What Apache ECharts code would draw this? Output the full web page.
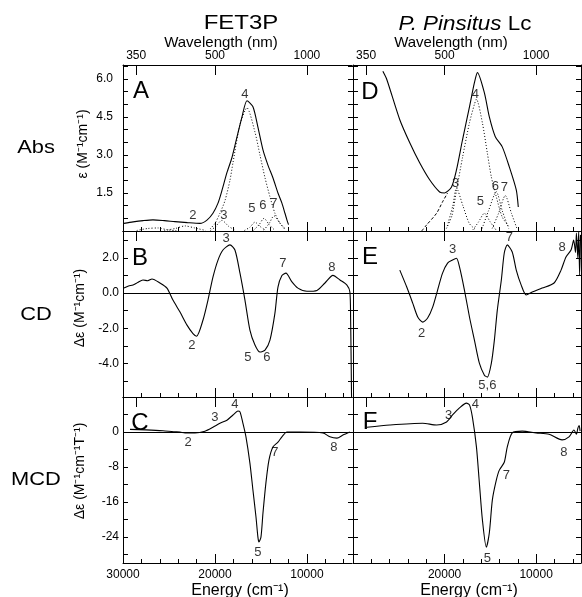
<!DOCTYPE html>
<html>
<head>
<meta charset="utf-8">
<script src="https://cdn.jsdelivr.net/npm/echarts@6/dist/echarts.min.js"></script>
<style>
  html, body { margin: 0; background: #fff; }
  #chart { width: 582px; height: 597px; }
</style>
</head>
<body>
<div id="chart"></div>
<script>
// energy axis runs from 30000 down to ~5100 cm-1 in every panel
var E_MIN = 5100, E_MAX = 30000;
var FONT = '"Liberation Sans", Arial, sans-serif';

var energyMajor = [30000, 20000, 10000];
var energyMinor = [28000, 26000, 24000, 22000, 18000, 16000, 14000, 12000, 8000, 6000];
var wavelengthNm = [350, 500, 1000];

var absTicks = [0.5, 1, 1.5, 2, 2.5, 3, 3.5, 4, 4.5, 5, 5.5, 6, 6.5];
var absLabels = [1.5, 3, 4.5, 6];
var cdTicks = [-5, -4, -3, -2, -1, 0, 1, 2, 3];
var cdLabels = [-4, -2, 0, 2];
var mcdTicks = [-28, -24, -20, -16, -12, -8, -4, 0, 4];
var mcdLabels = [-24, -16, -8, 0];

// ---- Abs, FET3P (panel A)
var absFet3p = [[29890,0.3],[28900,0.36],[27800,0.41],[26740,0.44],[25500,0.41],[24350,0.37],[23000,0.33],[21630,0.3],
  [20870,0.43],[20220,0.7],[19670,1.1],[19240,1.6],[18700,2.3],[18150,2.9],[17610,3.7],[17060,4.5],[16520,5.14],
  [15870,4.9],[15330,4.1],[14780,3.2],[14240,2.6],[13700,2.1],[13150,1.5],[12720,1.1],[12390,0.7],[12170,0.43],[12000,0.25]];
var absFet3pBand1 = [[28500,0.02],[27300,0.1],[26200,0.12],[25200,0.05],[24200,0.01]];
var absFet3pBand2 = [[25500,0.02],[24300,0.1],[23260,0.2],[22200,0.12],[21000,0.02]];
var absFet3pBand3 = [[20500,0.02],[20000,0.15],[19240,0.42],[18500,0.18],[17800,0.03]];
var absFet3pBand4 = [[20540,0.08],[20000,0.3],[19460,0.7],[18910,1.2],[18370,2.0],[18040,2.7],[17280,4.2],[16520,4.86],
  [15650,3.9],[15110,3.0],[14560,2.1],[14020,1.35],[13480,0.7],[12930,0.3],[12390,0.1]];
var absFet3pBand5 = [[16800,0.02],[16200,0.15],[15650,0.35],[15100,0.18],[14500,0.02]];
var absFet3pBand6 = [[15800,0.03],[15200,0.25],[14670,0.5],[14100,0.25],[13500,0.03]];
var absFet3pBand7 = [[14700,0.03],[14100,0.3],[13590,0.6],[13000,0.35],[12400,0.05]];
var absFet3pLabels = [[22390,0.63,'2'],[19020,0.63,'3'],[16740,5.38,'4'],[15980,0.91,'5'],[14780,0.99,'6'],[13590,1.07,'7']];

// ---- Abs, P. pinsitus Lc (panel D)
var absLc = [[26740,6.3],[26300,5.97],[24890,4.39],[23800,3.48],[22720,2.69],[21630,2.02],[20540,1.54],[20000,1.5],
  [19240,1.74],[18700,2.41],[18040,3.6],[17280,4.9],[16740,5.85],[16410,6.25],[15650,5.45],[15110,4.5],[14460,3.72],
  [13700,3.32],[12930,2.53],[12170,1.62],[11950,0.95]];
var absLcBackground = [[22500,0],[21960,0.24],[20870,0.7],[20220,1.15],[19670,1.5]];
var absLcBand3 = [[19700,0.2],[19100,1.0],[18700,1.7],[18000,1.0],[17300,0.3],[16600,0.05]];
var absLcBand4 = [[19800,0.1],[19200,0.6],[18700,1.6],[18040,2.9],[17280,4.27],[16740,5.0],[16520,5.2],[15870,4.27],
  [15330,3.08],[14890,2.13],[14350,1.35],[13700,0.55],[12930,0.15]];
var absLcBand5 = [[16900,0.05],[16300,0.35],[15650,0.7],[15000,0.35],[14400,0.05]];
var absLcBand6 = [[15900,0.1],[15200,0.8],[14350,1.55],[13700,0.8],[13000,0.1]];
var absLcBand7 = [[14800,0.1],[14100,0.7],[13370,1.4],[12700,0.7],[12100,0.1]];
var absLcLabels = [[18800,1.86,'3'],[16630,5.38,'4'],[16090,1.15,'5'],[14460,1.74,'6'],[13480,1.7,'7']];

// ---- CD (panels B, E)
var cdFet3p = [[29890,0.28],[29400,0.4],[28910,0.45],[28400,0.6],[27830,0.74],[27300,0.7],[26850,0.8],[25980,0.57],
  [25220,0.28],[24570,-0.4],[23800,-1.08],[23040,-1.82],[22390,-2.3],[22000,-2.45],[21300,-1.53],[20760,-0.4],
  [20220,0.9],[19670,1.87],[19130,2.44],[18370,2.73],[17830,2.44],[17280,1.13],[16740,-0.4],[16200,-2.1],
  [15650,-2.95],[15110,-3.35],[14560,-3.24],[14020,-2.67],[13480,-1.14],[13150,0.34],[12720,1.0],[12280,1.13],
  [11630,0.63],[10980,0.28],[10000,0.1],[8910,0.15],[8040,0.57],[7170,1.0],[6410,0.74],[5650,0.45],[5330,0.06],
  [5250,-1.5],[5200,-3.5],[5150,-5.9]];
var cdFet3pLabels = [[22500,-3.0,'2'],[18800,3.1,'3'],[16410,-3.64,'5'],[14350,-3.64,'6'],[12610,1.7,'7'],[7280,1.48,'8']];

var cdLc = [[24890,1.3],[24130,0.34],[23480,-0.57],[22930,-1.36],[22390,-1.65],[21850,-1.42],[21300,-0.8],[20760,0.17],
  [20220,1.13],[19670,1.7],[19130,1.87],[18700,1.97],[18370,1.48],[17830,0.17],[17280,-1.36],[16740,-2.67],
  [16200,-3.98],[15650,-4.66],[15330,-4.77],[14890,-3.98],[14560,-2.67],[14240,-0.97],[13800,0.74],[13480,2.27],
  [13150,2.73],[12610,2.33],[12170,1.3],[11630,0.45],[11090,-0.11],[10430,0.06],[9350,0.28],[8040,0.57],[7280,1.3],
  [6740,2.05],[6190,2.44],[5900,3.0],[5700,2.3],[5600,3.4],[5450,2.0],[5350,3.5],[5250,1.0],[5150,3.3]];
var cdLcLabels = [[22500,-2.27,'2'],[19130,2.5,'3'],[15330,-5.23,'5,6'],[12930,3.18,'7'],[7170,2.6,'8']];

// ---- MCD (panels C, F)
var mcdFet3p = [[29240,0.6],[27500,0.5],[25650,0.3],[24500,0.05],[23800,0],[23260,-0.2],[22170,-0.2],[21090,0.2],
  [20220,1.1],[19460,2.0],[18700,2.7],[18040,3.9],[17500,4.8],[17280,4.6],[16960,2.0],[16630,-1.1],[16200,-7.1],
  [15870,-13.3],[15540,-19.4],[15330,-24],[15220,-25.1],[15000,-24],[14780,-18.5],[14460,-11.6],[14130,-6.4],
  [13700,-3.4],[13150,-2.3],[12720,-1.1],[12170,0],[10760,0],[8260,-0.2],[7500,-1.1],[6740,-1.4],[6090,-0.7],[5330,0]];
var mcdFet3pLabels = [[22930,-2.3,'2'],[20000,3.4,'3'],[17830,6.2,'4'],[15330,-27.4,'5'],[13480,-4.6,'7'],[7060,-3.4,'8']];

var mcdLc = [[28480,1.1],[25980,1.6],[22390,2.0],[20870,1.6],[19780,2.3],[19130,3.9],[18370,5.5],[17610,6.6],
  [17280,6.2],[16960,3.4],[16520,-3.4],[16200,-11.6],[15870,-20],[15440,-26.3],[15110,-23],[14780,-15.5],
  [14350,-11],[14020,-8.7],[13480,-6.9],[13150,-3.4],[12610,-0.2],[11520,0.2],[10000,-0.2],[8590,-0.5],[7170,-1.8],
  [6410,-1.1],[5870,0.45],[5600,-0.5],[5440,0.9],[5300,1.5],[5200,0.2]];
var mcdLcLabels = [[19570,3.9,'3'],[16630,6.4,'4'],[15330,-28.8,'5'],[13260,-9.8,'7'],[6960,-4.6,'8']];

var wavelengthEnergy = wavelengthNm.map(function (nm) { return 1e7 / nm; });

var panels = [
  { left: 123, top: 65,  width: 229, yMin: 0,     yMax: 6.55, ticks: absTicks, labels: absLabels, digits: 1, margin: 10, side: 'left',  waveLabels: true,  energyLabels: [], zero: false,
    solid: absFet3p, dotted: [absFet3pBand1, absFet3pBand2, absFet3pBand3, absFet3pBand4, absFet3pBand5, absFet3pBand6, absFet3pBand7], dashed: [], marks: absFet3pLabels },
  { left: 123, top: 231, width: 229, yMin: -5.9,  yMax: 3.52, ticks: cdTicks,  labels: cdLabels,  digits: 1, margin: 4,  side: 'left',  waveLabels: false, energyLabels: [], zero: true,
    solid: cdFet3p, dotted: [], dashed: [], marks: cdFet3pLabels },
  { left: 123, top: 397, width: 229, yMin: -29.9, yMax: 8,    ticks: mcdTicks, labels: mcdLabels, digits: 0, margin: 4,  side: 'left',  waveLabels: false, energyLabels: [30000, 20000, 10000], zero: true,
    solid: mcdFet3p, dotted: [], dashed: [], marks: mcdFet3pLabels },
  { left: 353, top: 65,  width: 228, yMin: 0,     yMax: 6.55, ticks: absTicks, labels: [],        digits: 1, margin: 4,  side: 'right', waveLabels: true,  energyLabels: [], zero: false,
    solid: absLc, dotted: [absLcBand3, absLcBand4, absLcBand5, absLcBand6, absLcBand7], dashed: [absLcBackground], marks: absLcLabels },
  { left: 353, top: 231, width: 228, yMin: -5.9,  yMax: 3.52, ticks: cdTicks,  labels: [],        digits: 1, margin: 4,  side: 'right', waveLabels: false, energyLabels: [], zero: true,
    solid: cdLc, dotted: [], dashed: [], marks: cdLcLabels },
  { left: 353, top: 397, width: 228, yMin: -29.9, yMax: 8,    ticks: mcdTicks, labels: [],        digits: 0, margin: 4,  side: 'right', waveLabels: false, energyLabels: [20000, 10000], zero: true,
    solid: mcdLc, dotted: [], dashed: [], marks: mcdLcLabels }
];

var black = { color: '#000', width: 1 };
var grids = [], xAxes = [], yAxes = [], series = [];

// main grids, then overlay grids that only carry the longer/outward ticks
panels.forEach(function (p) {
  grids.push({ left: p.left, top: p.top, width: p.width, height: 166, containLabel: false, outerBoundsMode: 'none' });
});
panels.forEach(function (p) {
  grids.push({ left: p.left, top: p.top, width: p.width, height: 166, containLabel: false, outerBoundsMode: 'none' });
});

panels.forEach(function (p, i) {
  p.xIndex = xAxes.length;
  xAxes.push({
    type: 'value', gridIndex: i, position: 'bottom', min: E_MIN, max: E_MAX, inverse: true,
    axisLine: { show: true, onZero: false, lineStyle: black },
    axisTick: { show: true, inside: true, length: 4, customValues: energyMinor, lineStyle: black },
    axisLabel: { show: p.energyLabels.length > 0, customValues: p.energyLabels, color: '#000', fontFamily: FONT, fontSize: 12, margin: 6,
      formatter: function (v) { return String(Math.round(v)); } },
    splitLine: { show: false }
  });
  xAxes.push({
    type: 'value', gridIndex: i, position: 'top', min: E_MIN, max: E_MAX, inverse: true,
    axisLine: { show: true, onZero: false, lineStyle: black },
    axisTick: { show: true, inside: true, length: 10, customValues: wavelengthEnergy, lineStyle: black },
    axisLabel: { show: p.waveLabels, customValues: wavelengthEnergy, color: '#000', fontFamily: FONT, fontSize: 12, margin: 3,
      formatter: function (v) { return String(Math.round(1e7 / v)); } },
    splitLine: { show: false }
  });

  p.yIndex = yAxes.length;
  yAxes.push({
    type: 'value', gridIndex: i, position: 'left', min: p.yMin, max: p.yMax,
    axisLine: { show: true, onZero: false, lineStyle: black },
    axisTick: { show: true, inside: true, length: 5, customValues: p.ticks, lineStyle: black },
    axisLabel: { show: p.labels.length > 0, customValues: p.labels, color: '#000', fontFamily: FONT, fontSize: 12, margin: p.margin,
      formatter: function (v) { return v.toFixed(p.digits); } },
    splitLine: { show: false }
  });
  if (p.side === 'right') {
    yAxes.push({
      type: 'value', gridIndex: i, position: 'right', min: p.yMin, max: p.yMax,
      axisLine: { show: true, onZero: false, lineStyle: black },
      axisTick: { show: true, inside: true, length: 5, customValues: p.ticks, lineStyle: black },
      axisLabel: { show: false }, splitLine: { show: false }
    });
  }
});

panels.forEach(function (p, i) {
  xAxes.push({
    type: 'value', gridIndex: 6 + i, position: 'bottom', min: E_MIN, max: E_MAX, inverse: true,
    axisLine: { show: false, onZero: false },
    axisTick: { show: true, inside: true, length: 9, customValues: energyMajor, lineStyle: black },
    axisLabel: { show: false }, splitLine: { show: false }
  });
  yAxes.push({
    type: 'value', gridIndex: 6 + i, position: 'left', min: p.yMin, max: p.yMax,
    axisLine: { show: false, onZero: false },
    axisTick: { show: p.side === 'right', inside: false, length: 5, customValues: p.ticks, lineStyle: black },
    axisLabel: { show: false }, splitLine: { show: false }
  });
});

function curve(p, data, dash, width) {
  return {
    type: 'line', xAxisIndex: p.xIndex, yAxisIndex: p.yIndex, data: data,
    showSymbol: false, smooth: 0.25, silent: true, animation: false,
    lineStyle: { color: '#000', width: width, type: dash }
  };
}

panels.forEach(function (p) {
  var main = curve(p, p.solid, 'solid', 1.1);
  main.z = 4;
  if (p.zero) {
    main.markLine = {
      silent: true, symbol: 'none', animation: false,
      label: { show: false },
      lineStyle: { color: '#000', width: 1, type: 'solid' },
      data: [{ yAxis: 0 }]
    };
  }
  series.push(main);
  p.dotted.forEach(function (d) { series.push(curve(p, d, [1, 2], 1)); });
  p.dashed.forEach(function (d) { series.push(curve(p, d, [3, 2], 1)); });
  series.push({
    type: 'scatter', xAxisIndex: p.xIndex, yAxisIndex: p.yIndex, silent: true, animation: false, z: 5,
    symbolSize: 1, itemStyle: { color: 'rgba(0,0,0,0)' },
    data: p.marks.map(function (m) { return { value: [m[0], m[1]], name: m[2] }; }),
    label: { show: true, position: 'inside', formatter: '{b}', color: '#000', fontFamily: FONT, fontSize: 13 }
  });
});

function txt(s, x, y, size, extra) {
  var el = {
    type: 'text', x: x, y: y, silent: true,
    style: { text: s, fontSize: size, fontFamily: FONT, fill: '#000', align: 'center', verticalAlign: 'middle' }
  };
  for (var k in extra) el[k] = extra[k];
  return el;
}

var graphics = [
  txt('FET3P', 241, 23, 20, { scaleX: 1.2 }),
  {
    type: 'text', x: 465, y: 24, silent: true, scaleX: 1.12,
    style: { text: '{i|P. Pinsitus} Lc', fontSize: 20, fontFamily: FONT, fill: '#000', align: 'center', verticalAlign: 'middle',
      rich: { i: { fontStyle: 'italic', fontSize: 20, fontFamily: FONT } } }
  },
  txt('Wavelength (nm)', 221, 43, 15),
  txt('Wavelength (nm)', 451, 43, 15),
  txt('Abs', 36, 148, 19, { scaleX: 1.15 }),
  txt('CD', 36, 315, 19, { scaleX: 1.15 }),
  txt('MCD', 36, 480, 19, { scaleX: 1.15 }),
  txt('A', 141, 91, 24), txt('B', 140, 258, 24), txt('C', 140, 423, 24),
  txt('D', 370, 92, 24), txt('E', 370, 257, 24), txt('F', 370, 422, 24),
  txt('\u03b5 (M\u207b\u00b9cm\u207b\u00b9)', 83, 144, 14, { rotation: Math.PI / 2 }),
  txt('\u0394\u03b5 (M\u207b\u00b9cm\u207b\u00b9)', 80, 308, 14, { rotation: Math.PI / 2 }),
  txt('\u0394\u03b5 (M\u207b\u00b9cm\u207b\u00b9T\u207b\u00b9)', 80, 471, 14, { rotation: Math.PI / 2 }),
  txt('Energy (cm\u207b\u00b9)', 240, 591, 16),
  txt('Energy (cm\u207b\u00b9)', 469, 591, 16)
];

var chart = echarts.init(document.getElementById('chart'), null, { renderer: 'canvas' });
chart.setOption({
  backgroundColor: '#fff',
  animation: false,
  grid: grids,
  xAxis: xAxes,
  yAxis: yAxes,
  series: series,
  graphic: graphics
});
</script>
</body>
</html>
